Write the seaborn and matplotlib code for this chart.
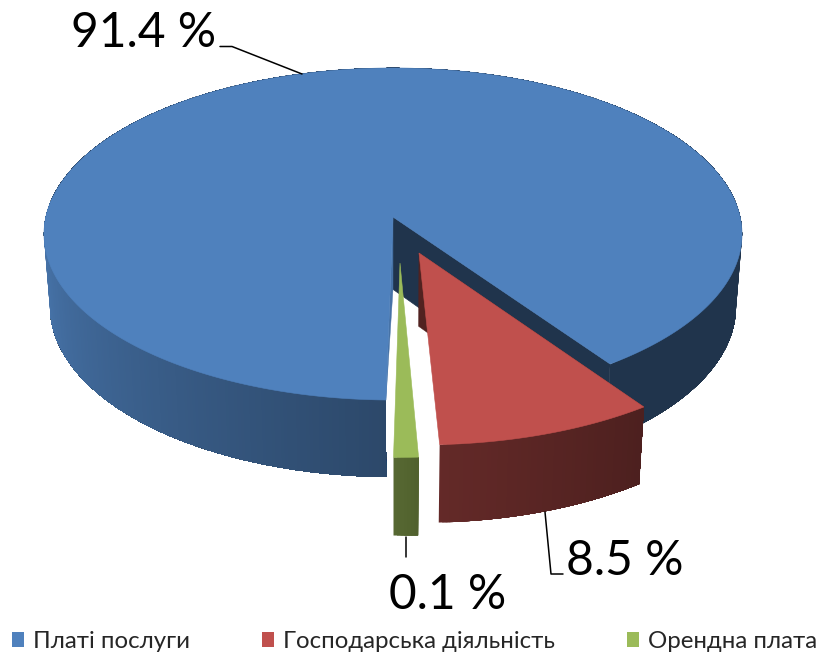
import numpy as np
import matplotlib
matplotlib.use("Agg")
import matplotlib.pyplot as plt
from matplotlib.patches import Patch
import seaborn as sns

# ---- data ----
categories = ["Платі послуги", "Господарська діяльність", "Орендна плата"]
value_labels = ["91.4 %", "8.5 %", "0.1 %"]
# shares of the circle as they are actually drawn (slices do not follow printed labels)
drawn_shares = [90.0, 9.0, 1.0]
colors = ["#4F81BD", "#C0504D", "#9BBB59"]

# ---- projection of the tilted pie (layout only) ----
CX, CY = 393.0, 217.0
A, B, K = 347.2, 164.3, 0.1024
H, C = 73.6, 0.0175
START = -1.05                 # first slice starts here, slices run clockwise
EXPLODE = [(0.0, 0.0), (0.0732, 0.2142), (0.0196, 0.2722)]
SHADE_T = [-180, -90, -1, 2.4, 35, 90, 180]
SHADE_F = [0.93, 0.93, 0.56, 0.52, 0.40, 0.40, 0.40]


def project(u, v, bottom=False):
    u, v = np.asarray(u, float), np.asarray(v, float)
    w = 1 - K * v + (C if bottom else 0)
    return CX + A * u / w, CY + (B * v + (H if bottom else 0)) / w


def rim(theta, ex, bottom=False):
    t = np.radians(theta)
    return project(ex[0] + np.sin(t), ex[1] + np.cos(t), bottom)


def wrapped(t):
    return (t + 180) % 360 - 180


sns.set_theme(style="white")
plt.rcParams["font.family"] = ["Lato", "Open Sans", "DejaVu Sans"]
palette = sns.color_palette(colors)

fig = plt.figure(figsize=(8.22, 6.57), dpi=100)
ax = fig.add_axes([0, 0, 1, 1])
ax.set_xlim(0, 822)
ax.set_ylim(657, 0)
ax.axis("off")

edges = START - np.cumsum([0] + [s * 3.6 for s in drawn_shares])
for i, share in enumerate(drawn_shares):
    col = np.array(palette[i])
    ex = EXPLODE[i]
    t_hi, t_lo = edges[i], edges[i + 1]
    thetas = np.linspace(t_lo, t_hi, max(int((t_hi - t_lo) * 2), 4) + 1)
    z = 1 + i * 3

    ax0, ay0 = project(ex[0], ex[1])
    bx0, by0 = project(ex[0], ex[1], True)

    # cut faces
    if i == 0:
        x1, y1 = rim(t_lo, ex)
        x2, y2 = rim(t_lo, ex, True)
        ax.fill([ax0, bx0, x2, x1], [ay0, by0, y2, y1],
                color=col * 0.40, lw=0.5, zorder=z)
        x1, y1 = rim(t_hi, ex)
        ax.fill([ax0, bx0, x1], [ay0, by0, y1], color=col * 0.88, lw=0.3, zorder=z)
    elif i == 1:
        x1, y1 = rim(t_hi, ex)
        x2, y2 = rim(t_hi, ex, True)
        ax.fill([ax0, bx0, x2, x1], [ay0, by0, y2, y1],
                color=col * 0.42, lw=0.3, zorder=z)

    # outer wall with its shading: each strip runs to the slice end,
    # later strips paint over it, so no seams appear between strips
    t_end = thetas[-1]
    for a, b in zip(thetas[:-1], thetas[1:]):
        mid = wrapped((a + b) / 2)
        if np.cos(np.radians(mid)) < -0.12:
            continue
        span = np.linspace(a, t_end, max(int(abs(t_end - a)), 2) + 1)
        xt, yt = rim(span, ex)
        xl, yl = rim(span, ex, True)
        shade = np.interp(mid, SHADE_T, SHADE_F)
        ax.fill(np.r_[xt, xl[::-1]], np.r_[yt, yl[::-1]], color=col * shade,
                lw=0, zorder=z + 1)

    # top face
    x, y = rim(thetas, ex)
    ax.fill(np.r_[ax0, x], np.r_[ay0, y], color=col, lw=0.4, zorder=z + 2)

# leader lines and value labels
ax.plot([220, 232, 302], [46.5, 46.5, 74], color="black", lw=1.1, zorder=20)
ax.plot([545, 551, 563], [512, 574, 574], color="black", lw=1.1, zorder=20)
ax.plot([406, 406], [537, 557], color="black", lw=1.1, zorder=20)
for txt, px, py in zip(value_labels, [71, 566, 389], [47, 575, 609]):
    ax.text(px, py, txt, fontsize=34.5, color="black", ha="left", va="baseline", zorder=21)

handles = [Patch(facecolor=c, edgecolor="none") for c in palette]
fig.legend(handles, categories, ncols=3, loc="lower left",
           bbox_to_anchor=(12 / 822, 5 / 657), bbox_transform=fig.transFigure,
           frameon=False, fontsize=17.3, handlelength=0.5, handleheight=0.55,
           handletextpad=0.375, columnspacing=3.0, borderpad=0, borderaxespad=0)

fig.savefig("out.png", dpi=100)
